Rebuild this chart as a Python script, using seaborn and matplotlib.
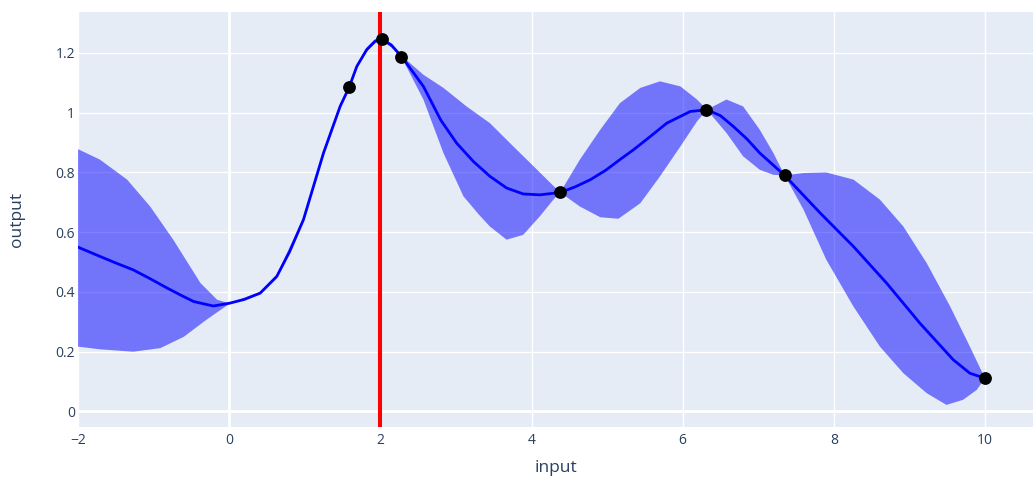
import numpy as np
import pandas as pd
import matplotlib
matplotlib.use("Agg")
import matplotlib.pyplot as plt
import seaborn as sns

# Posterior mean
mean_x = [-2, -1.71, -1.5, -1.27, -1.05, -0.82, -0.63, -0.47, -0.21, 0, 0.2,
          0.41, 0.63, 0.8, 0.983, 1.248, 1.468, 1.587, 1.689, 1.82, 1.93,
          2.02, 2.15, 2.284, 2.57, 2.8, 3.01, 3.23, 3.45, 3.67, 3.89, 4.11,
          4.38, 4.58, 4.78, 4.98, 5.17, 5.35, 5.57, 5.79, 6.1, 6.32, 6.5,
          6.67, 6.85, 7.02, 7.35, 7.82, 8.26, 8.7, 9.14, 9.58, 9.8, 10.0]
mean_y = [0.55, 0.519, 0.497, 0.474, 0.445, 0.413, 0.388, 0.368, 0.353,
          0.362, 0.375, 0.396, 0.452, 0.535, 0.642, 0.865, 1.021, 1.085,
          1.155, 1.211, 1.239, 1.247, 1.225, 1.187, 1.088, 0.975, 0.898,
          0.837, 0.787, 0.748, 0.728, 0.725, 0.733, 0.752, 0.776, 0.807,
          0.843, 0.876, 0.92, 0.965, 1.004, 1.01, 0.99, 0.954, 0.912, 0.865,
          0.79, 0.664, 0.552, 0.429, 0.295, 0.173, 0.128, 0.111]

# Upper edge of the confidence band
upper_x = [-2, -1.71, -1.35, -1.045, -0.74, -0.38, -0.16, 0, 0.41, 0.63,
           0.983, 1.248, 1.468, 1.587, 1.689, 1.82, 1.93, 2.02, 2.15, 2.284,
           2.57, 2.835, 3.14, 3.45, 3.76, 4.03, 4.25, 4.38, 4.64, 4.91, 5.17,
           5.44, 5.7, 5.97, 6.19, 6.32, 6.58, 6.8, 7.02, 7.2, 7.35, 7.6, 7.9,
           8.26, 8.61, 8.92, 9.23, 9.54, 9.8, 10.0]
upper_y = [0.878, 0.843, 0.776, 0.686, 0.575, 0.43, 0.374, 0.362, 0.4,
           0.458, 0.648, 0.872, 1.028, 1.09, 1.16, 1.218, 1.246, 1.252,
           1.232, 1.19, 1.127, 1.083, 1.021, 0.965, 0.887, 0.82, 0.765,
           0.733, 0.843, 0.943, 1.032, 1.083, 1.105, 1.088, 1.044, 1.01,
           1.044, 1.021, 0.943, 0.865, 0.79, 0.798, 0.8, 0.776, 0.709,
           0.619, 0.496, 0.351, 0.217, 0.111]

# Lower edge of the confidence band
lower_x = [-2, -1.71, -1.27, -0.91, -0.6, -0.3, 0, 0.41, 0.63, 0.983, 1.248,
           1.468, 1.587, 1.689, 1.82, 1.93, 2.02, 2.15, 2.284, 2.57, 2.835,
           3.1, 3.3, 3.45, 3.67, 3.89, 4.11, 4.29, 4.38, 4.64, 4.91, 5.15,
           5.44, 5.7, 5.97, 6.19, 6.32, 6.58, 6.8, 7.02, 7.2, 7.35, 7.6, 7.9,
           8.26, 8.61, 8.92, 9.23, 9.49, 9.71, 9.89, 10.0]
lower_y = [0.217, 0.208, 0.2, 0.212, 0.25, 0.307, 0.36, 0.392, 0.446, 0.636,
           0.858, 1.014, 1.08, 1.15, 1.204, 1.232, 1.242, 1.218, 1.184,
           1.044, 0.865, 0.72, 0.66, 0.619, 0.575, 0.591, 0.653, 0.709,
           0.733, 0.686, 0.65, 0.645, 0.697, 0.787, 0.887, 0.971, 1.01,
           0.932, 0.854, 0.809, 0.792, 0.79, 0.675, 0.508, 0.351, 0.217,
           0.128, 0.061, 0.022, 0.039, 0.072, 0.111]

# Observed samples
obs_x = [1.58, 2.02, 2.28, 4.38, 6.31, 7.35, 10.0]
obs_y = [1.087, 1.245, 1.186, 0.733, 1.01, 0.79, 0.111]

next_x = 2.0

curve = pd.DataFrame({"input": mean_x, "output": mean_y})
obs = pd.DataFrame({"input": obs_x, "output": obs_y})

sns.set_theme(style="darkgrid", rc={
    "axes.facecolor": "#E5ECF6",
    "grid.color": "white",
    "grid.linewidth": 1.0,
})
plt.rcParams["font.family"] = ["Open Sans", "DejaVu Sans"]

fig = plt.figure(figsize=(10.33, 4.78), dpi=100)
ax = fig.add_axes([78 / 1033, 51 / 478, 955 / 1033, 415 / 478])

# band polygon: upper edge left->right, lower edge back right->left
band_x = upper_x + lower_x[::-1]
band_y = upper_y + lower_y[::-1]
ax.fill(band_x, band_y, color="blue", alpha=0.5, linewidth=0, zorder=2)

sns.lineplot(data=curve, x="input", y="output", color="blue",
             linewidth=2.0, ax=ax, zorder=3)
ax.axvline(next_x, color="red", linewidth=2.9, zorder=4)
sns.scatterplot(data=obs, x="input", y="output", color="black", s=85,
                linewidth=0, ax=ax, zorder=5)

# zero lines a bit heavier, as plotly does
ax.axhline(0, color="white", linewidth=2, zorder=1)
ax.axvline(0, color="white", linewidth=2, zorder=1)

ax.set_xlim(-2, 10.635)
ax.set_ylim(-0.052, 1.337)
ax.set_xticks(range(-2, 11, 2))
ax.set_xticklabels(["\u22122", "0", "2", "4", "6", "8", "10"])
ax.set_yticks([0, 0.2, 0.4, 0.6, 0.8, 1.0, 1.2])
ax.set_yticklabels(["0", "0.2", "0.4", "0.6", "0.8", "1", "1.2"])
ax.tick_params(axis="both", labelsize=10, colors="#2a3f5f", length=0)
ax.tick_params(axis="x", pad=4)
ax.tick_params(axis="y", pad=2)
for spine in ax.spines.values():
    spine.set_visible(False)

ax.set_xlabel("input", fontsize=12.5, color="#2a3f5f")
ax.set_ylabel("output", fontsize=12.5, color="#2a3f5f")
ax.xaxis.label.set_va("center")
ax.yaxis.label.set_va("center")
ax.xaxis.set_label_coords(0.5, (427 - 468) / 415)
ax.yaxis.set_label_coords((17 - 78) / 955, 0.5)

fig.savefig("out.png", dpi=100)
